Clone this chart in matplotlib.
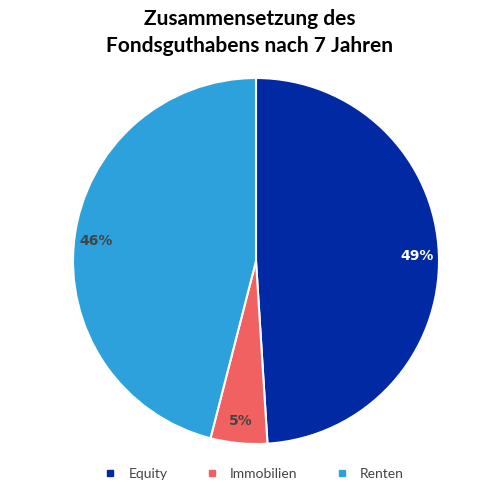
import matplotlib
matplotlib.use("Agg")
import matplotlib.pyplot as plt
from matplotlib.lines import Line2D

categories = ["Equity", "Immobilien", "Renten"]
values = [49, 5, 46]
colors = ["#0029a3", "#f26161", "#2ca1db"]
label_colors = ["white", "#444444", "#444444"]

plt.rcParams['font.family'] = ['Lato', 'DejaVu Sans']
fig = plt.figure(figsize=(5, 5), dpi=100)
ax = fig.add_axes([0.146, 0.112, 0.732, 0.732])
wedges, texts = ax.pie(values, colors=colors, startangle=90, counterclock=False,
                       wedgeprops=dict(edgecolor="white", linewidth=1.5), radius=1)
import numpy as np
ang = 90
for w, v, c in zip(wedges, values, label_colors):
    mid = np.deg2rad((w.theta1 + w.theta2) / 2)
    r = 0.88
    ax.text(r * np.cos(mid), r * np.sin(mid), f"{v}%", ha="center", va="center",
            color=c, fontsize=10, fontweight="bold", family=["DejaVu Sans"])
ax.set_xlim(-1, 1); ax.set_ylim(-1, 1)
ax.set_aspect("equal")
fig.text(0.5, 0.935, "Zusammensetzung des\nFondsguthabens nach 7 Jahren", ha="center",
         va="center", fontsize=15, fontweight="bold", linespacing=1.4)
handles = [Line2D([], [], marker="s", color=c, linestyle="", markersize=5) for c in colors]
fig.legend(handles, categories, loc="center", bbox_to_anchor=(0.5, 0.052), ncol=3,
           frameon=False, fontsize=10, handletextpad=0.3, columnspacing=2.2,
           labelcolor="#444444")
fig.savefig("out.png", dpi=100)
